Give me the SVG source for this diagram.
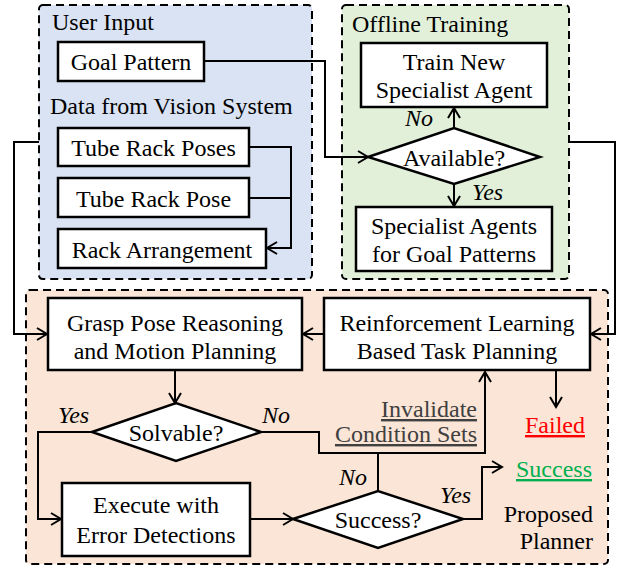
<svg xmlns="http://www.w3.org/2000/svg" width="625" height="565" viewBox="0 0 625 565" font-family="'Liberation Serif', 'Times New Roman', serif" font-size="24">
<style>
text{font-family:'Liberation Serif','Times New Roman',serif;font-size:24px;fill:#000}
.c{text-anchor:middle}
.e{text-anchor:end}
.i{font-style:italic}
.panel{stroke:#000;stroke-width:2;stroke-dasharray:8,5}
.box{fill:#fff;stroke:#000;stroke-width:2.5}
.ln{fill:none;stroke:#000;stroke-width:2}
.ar{fill:none;stroke:#000;stroke-width:2;marker-end:url(#arr)}
.ul{text-decoration:underline}
</style>
<defs>
<marker id="arr" markerUnits="userSpaceOnUse" markerWidth="14" markerHeight="16" refX="11" refY="7" orient="auto">
<path d="M1,1 L11,7 L1,13" fill="none" stroke="#000" stroke-width="2"/>
</marker>
</defs>
<g id="panel-user">
<rect class="panel" x="39" y="5" width="273" height="274" rx="4" fill="#DAE3F3"/>
<text x="52" y="30">User Input</text>
<text x="50" y="114">Data from Vision System</text>
</g>
<g id="panel-offline">
<rect class="panel" x="342" y="5" width="227" height="274" rx="4" fill="#E2F0D9"/>
<text x="352" y="32">Offline Training</text>
</g>
<g id="panel-planner">
<rect class="panel" x="26" y="290" width="582" height="274" rx="4" fill="#FBE5D6"/>
<text class="e" x="593" y="522">Proposed</text>
<text class="e" x="593" y="549">Planner</text>
</g>
<g id="goal-pattern">
<rect class="box" x="58" y="42" width="146" height="39"/>
<text class="c" x="131" y="70">Goal Pattern</text>
</g>
<g id="tube-rack-poses">
<rect class="box" x="58" y="128" width="191" height="38"/>
<text class="c" x="153.5" y="156">Tube Rack Poses</text>
</g>
<g id="tube-rack-pose">
<rect class="box" x="58" y="178" width="191" height="39"/>
<text class="c" x="153.5" y="207">Tube Rack Pose</text>
</g>
<g id="rack-arrangement">
<rect class="box" x="58" y="229" width="208" height="39"/>
<text class="c" x="162" y="258">Rack Arrangement</text>
</g>
<g id="train-new">
<rect class="box" x="361" y="43" width="186" height="64"/>
<text class="c" x="454" y="70">Train New</text>
<text class="c" x="454" y="98">Specialist Agent</text>
</g>
<g id="available">
<polygon class="box" points="368,157 454,128 540,157 454,184"/>
<text class="c" x="454" y="166">Available?</text>
</g>
<g id="specialist-agents">
<rect class="box" x="356" y="207" width="196" height="64"/>
<text class="c" x="454" y="234">Specialist Agents</text>
<text class="c" x="454" y="262">for Goal Patterns</text>
</g>
<g id="grasp">
<rect class="box" x="48" y="298" width="254" height="72"/>
<text class="c" x="175" y="331">Grasp Pose Reasoning</text>
<text class="c" x="175" y="359">and Motion Planning</text>
</g>
<g id="rl">
<rect class="box" x="324" y="298" width="266" height="72"/>
<text class="c" x="457" y="331">Reinforcement Learning</text>
<text class="c" x="457" y="359">Based Task Planning</text>
</g>
<g id="solvable">
<polygon class="box" points="92,432 176,403 261,432 176,461"/>
<text class="c" x="176" y="441">Solvable?</text>
</g>
<g id="execute">
<rect class="box" x="62" y="483" width="188" height="73"/>
<text class="c" x="156" y="513">Execute with</text>
<text class="c" x="156" y="543">Error Detections</text>
</g>
<g id="success-q">
<polygon class="box" points="293,519 378,491 463,519 378,548"/>
<text class="c" x="378" y="528">Success?</text>
</g>
<g id="failed">
<text class="c ul" x="555" y="433" style="fill:#FF0000">Failed</text>
</g>
<g id="success">
<text class="c ul" x="554" y="477" style="fill:#00B050">Success</text>
</g>
<g id="connectors">
<path class="ar" d="M249,147 H291 V248 H267"/>
<path class="ln" d="M249,198 H291"/>
<path class="ar" d="M204,61 H325 V157 H368"/>
<path class="ar" d="M454,128 V108"/>
<path class="ar" d="M454,184 V206"/>
<path class="ar" d="M569,142 H615 V334 H591"/>
<path class="ar" d="M39,142 H14 V334 H47"/>
<path class="ar" d="M324,334 H303"/>
<path class="ar" d="M175,370 V403"/>
<path class="ar" d="M92,432 H38 V519 H61"/>
<path class="ar" d="M250,519 H293"/>
<path class="ar" d="M261,432 H319 V453 H485 V372"/>
<path class="ln" d="M378,491 V453"/>
<path class="ar" d="M463,519 H482 V467 H502"/>
<path class="ar" d="M556,371 V407"/>
<text class="e i" x="433" y="126">No</text>
<text class="i" x="472" y="200">Yes</text>
<text class="i" x="58" y="423">Yes</text>
<text class="i" x="262" y="423">No</text>
<text class="e i" x="367" y="485">No</text>
<text class="i" x="440" y="503">Yes</text>
<text class="e ul" x="477" y="417" style="fill:#404040">Invalidate</text>
<text class="e ul" x="477" y="442" style="fill:#404040">Condition Sets</text>
</g>
</svg>
